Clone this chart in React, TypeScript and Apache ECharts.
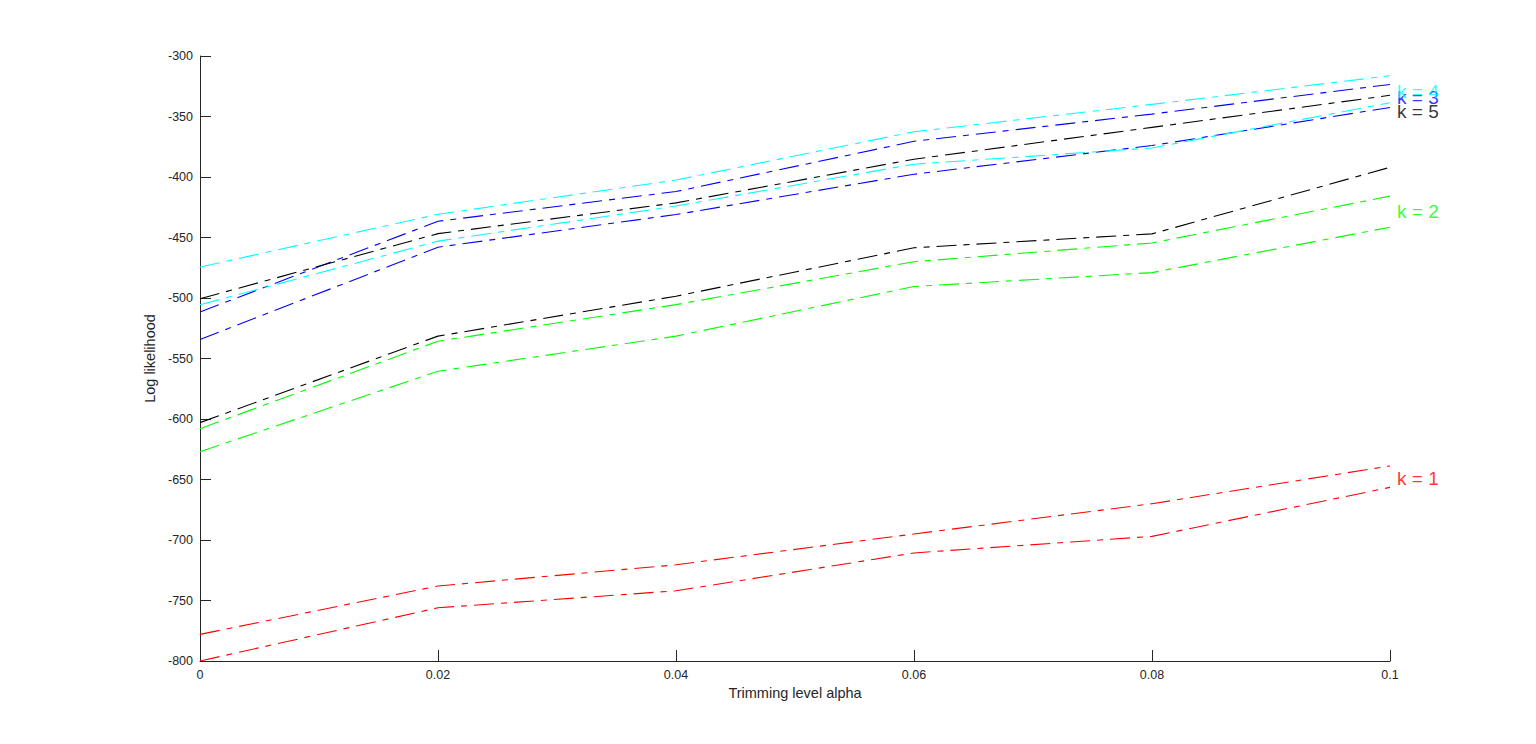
import React, { useEffect, useRef } from "react";
import * as echarts from "echarts";

const alphas = [0, 0.02, 0.04, 0.06, 0.08, 0.1];

const k1Upper = [-778, -738, -720.5, -695, -670, -638.8];
const k1Lower = [-800, -756, -742, -710.7, -697, -656.5];
const k2Upper = [-608, -535.7, -505.5, -470, -454.5, -415.8];
const k2Lower = [-627, -560.5, -531.5, -490.5, -479, -441.5];
const k3Upper = [-511.5, -436.6, -412, -370.5, -348, -323.5];
const k3Lower = [-534.3, -458, -431, -397.7, -374, -342.5];
const k4Upper = [-474.4, -430.8, -402.5, -362.6, -340, -316.3];
const k4Lower = [-505.6, -453, -424, -389.4, -376, -338.6];
const k5Upper = [-500.6, -446.8, -421.4, -385.3, -359, -332.5];
const k5Lower = [-603, -531.5, -498.5, -458.5, -447, -392];

const labelTexts = ["k = 1", "k = 2", "k = 3", "k = 4", "k = 5"];
const labelY = [-649.3, -428.3, -334.4, -329, -345.5];
const labelX = 0.1;

const colors = ["#ff0000", "#00ff00", "#0000ff", "#00ffff", "#000000"];

const yTicks = { min: -800, max: -300, interval: 50 };
const xTicks = { min: 0, max: 0.1, interval: 0.02 };

const FONT = "'Liberation Sans', Arial, Helvetica, sans-serif";
const AX = "#262626";

export default function App() {
  const ref = useRef<HTMLDivElement>(null);
  useEffect(() => {
    if (!ref.current) return;
    const chart = echarts.init(ref.current, null, { renderer: "svg" });
    const groups = [
      [k1Upper, k1Lower],
      [k2Upper, k2Lower],
      [k3Upper, k3Lower],
      [k4Upper, k4Lower],
      [k5Upper, k5Lower],
    ];
    const lineSeries: any[] = [];
    groups.forEach((pair, gi) => {
      pair.forEach((vals, li) => {
        lineSeries.push({
          type: "line",
          name: `k${gi + 1}-${li}`,
          data: alphas.map((a, i) => [a, vals[i]]),
          showSymbol: false,
          symbol: "none",
          lineStyle: { color: colors[gi], width: 1.1, type: [20, 7, 6, 7] },
          z: 2,
        });
      });
    });
    const labelSeries = {
      type: "scatter",
      symbolSize: 0,
      silent: true,
      z: 5,
      data: labelTexts.map((t, i) => ({
        value: [labelX, labelY[i]],
        label: {
          show: true,
          position: "right",
          distance: 7,
          formatter: t,
          color: colors[i],
          fontSize: 19,
          fontFamily: FONT,
        },
      })),
    };
    chart.setOption({
      animation: false,
      backgroundColor: "#ffffff",
      grid: { left: 200, right: 146, top: 56, bottom: 83, containLabel: false },
      xAxis: {
        type: "value",
        min: xTicks.min,
        max: xTicks.max,
        interval: xTicks.interval,
        name: "Trimming level alpha",
        nameLocation: "middle",
        nameGap: 23,
        nameTextStyle: { color: AX, fontSize: 14.5, fontFamily: FONT },
        axisLine: { show: true, onZero: false, lineStyle: { color: AX, width: 1 } },
        axisTick: { show: true, inside: true, length: 11, lineStyle: { color: AX } },
        axisLabel: { color: AX, fontSize: 12.5, fontFamily: FONT, margin: 7 },
        splitLine: { show: false },
      },
      yAxis: {
        type: "value",
        min: yTicks.min,
        max: yTicks.max,
        interval: yTicks.interval,
        name: "Log likelihood",
        nameLocation: "middle",
        nameGap: 38,
        nameTextStyle: { color: AX, fontSize: 14.5, fontFamily: FONT },
        axisLine: { show: true, onZero: false, lineStyle: { color: AX, width: 1 } },
        axisTick: { show: true, inside: true, length: 11, lineStyle: { color: AX } },
        axisLabel: { color: AX, fontSize: 12.5, fontFamily: FONT, margin: 7 },
        splitLine: { show: false },
      },
      series: [...lineSeries, labelSeries],
    });
    return () => chart.dispose();
  }, []);
  return (
    <div
      ref={ref}
      style={{ position: "absolute", left: 0, top: 0, width: 1536, height: 744 }}
    />
  );
}
